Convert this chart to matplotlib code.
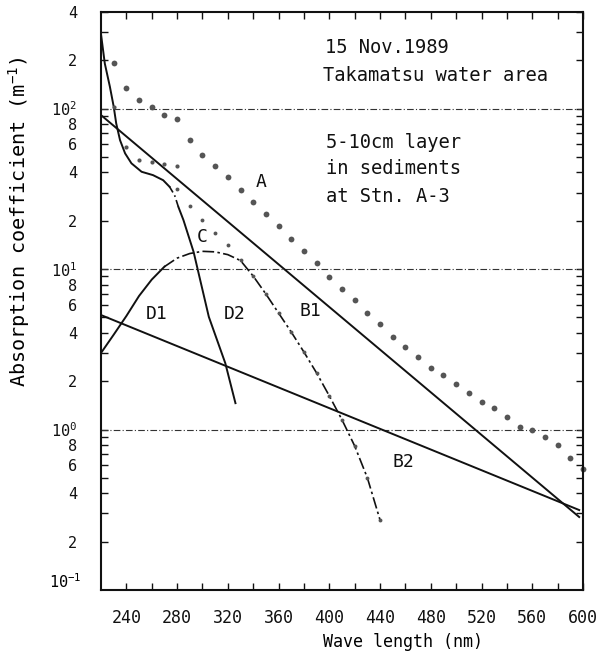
import numpy as np
import matplotlib
matplotlib.use("Agg")
import matplotlib.pyplot as plt
from matplotlib.ticker import FixedLocator, FixedFormatter, NullFormatter

plt.rcParams['font.family'] = ['DejaVu Sans Mono', 'DejaVu Sans']
plt.rcParams['mathtext.fontset'] = 'custom'
plt.rcParams['mathtext.rm'] = 'DejaVu Sans Mono'
plt.rcParams['mathtext.it'] = 'DejaVu Sans Mono'
plt.rcParams['mathtext.default'] = 'regular'

# A : measured absorption (large dots)
wl_A = list(range(230, 610, 10))
val_A = [193, 135, 113, 103, 91.5, 85.6, 63.6, 51.1, 43.8, 37.3, 31.2, 26.3,
         22.0, 18.5, 15.5, 12.9, 10.85, 8.92, 7.51, 6.38, 5.32, 4.56, 3.79,
         3.28, 2.83, 2.43, 2.19, 1.91, 1.70, 1.48, 1.37, 1.19, 1.04, 0.99,
         0.90, 0.80, 0.66, 0.565]

# small dots, short UV part
wl_S = [230, 240, 250, 260, 270, 280]
val_S = [102, 57.8, 47.5, 46.2, 44.9, 44.0]

# B1 small dots
wl_B1 = list(range(280, 450, 10))
val_B1 = [31.5, 24.8, 20.2, 16.9, 14.1, 11.4, 9.04, 6.99, 5.32, 4.05, 3.04,
          2.25, 1.62, 1.15, 0.79, 0.50, 0.273]

# D1 (solid, rising) + C (dash-dot arch, then along B1)
wl_C = list(range(220, 450, 10))
val_C = [3.0, 3.9, 5.1, 6.8, 8.6, 10.35, 11.7, 12.5, 12.9, 12.8, 12.3, 11.3,
         9.04, 6.99, 5.32, 4.05, 3.04, 2.25, 1.62, 1.15, 0.79, 0.50, 0.273]

# steep curve on the left, ending as D2
wl_D = [220, 223, 227, 230, 232, 235, 239, 244, 252, 261, 269, 274, 278, 281,
        285, 293, 305, 318, 326]
val_D = [291, 191, 137, 103, 80.8, 63.6, 52.6, 45.6, 40.4, 38.5, 35.8, 32.6,
         28.9, 24.4, 20.2, 12.8, 5.04, 2.59, 1.46]

# two straight (exponential) lines
wl_L = [220, 597]
val_L1 = [91.1, 0.285]
val_B2 = [5.17, 0.315]

fig = plt.figure(figsize=(6.01, 6.54), dpi=100)
ax = fig.add_axes([101 / 601, 1 - 590 / 654, 482 / 601, 578 / 654])
ax.set_yscale('log')
ax.set_xlim(220, 600)
ax.set_ylim(0.1, 400)

k = '#111111'
# reference lines at decades
for v in [1, 10, 100]:
    ax.axhline(v, color='#333333', lw=0.8, ls=(0, (6, 2, 1, 2)))

ax.plot(wl_L, val_L1, color=k, lw=1.4)
ax.plot(wl_L, val_B2, color=k, lw=1.4)

ax.plot(wl_C[:6], val_C[:6], color=k, lw=1.4)
ax.plot(wl_C[5:], val_C[5:], color=k, lw=1.2, ls=(0, (7, 2, 1.5, 2)))

ax.plot(wl_D[:12], val_D[:12], color=k, lw=1.4)
ax.plot(wl_D[11:14], val_D[11:14], color=k, lw=1.2, ls=(0, (4, 2, 1, 2)))
ax.plot(wl_D[13:], val_D[13:], color=k, lw=1.4)

ax.plot(wl_A, val_A, 'o', color='#555555', ms=4.2, mew=0, clip_on=False)
ax.plot(wl_S, val_S, 'o', color='#555555', ms=3.0, mew=0)
ax.plot(wl_B1, val_B1, 'o', color='#555555', ms=2.8, mew=0)

# curve labels
lab = dict(fontsize=13, color=k, ha='center', va='center')
ax.text(346, 34.8, 'A', **lab)
ax.text(300, 15.8, 'C', **lab)
ax.text(264, 5.24, 'D1', **lab)
ax.text(325, 5.24, 'D2', **lab)
ax.text(385, 5.47, 'B1', **lab)
ax.text(458, 0.627, 'B2', **lab)

info = dict(fontsize=13.5, color=k, ha='left', va='center', transform=ax.transAxes)
ax.text(0.465, 0.939, '15 Nov.1989', **info)
ax.text(0.461, 0.891, 'Takamatsu water area', **info)
ax.text(0.467, 0.775, '5-10cm layer', **info)
ax.text(0.467, 0.730, 'in sediments', **info)
ax.text(0.467, 0.680, 'at Stn. A-3', **info)

# y ticks
ymaj = [0.2, 0.4, 0.6, 0.8, 1, 2, 4, 6, 8, 10, 20, 40, 60, 80, 100, 200, 400]
ylab = ['2', '4', '6', '8', '10$^{0}$', '2', '4', '6', '8', '10$^{1}$',
        '2', '4', '6', '8', '10$^{2}$', '2', '4']
ymin = [0.3, 0.5, 0.7, 0.9, 3, 5, 7, 9, 30, 50, 70, 90, 300]
ax.yaxis.set_major_locator(FixedLocator(ymaj))
ax.yaxis.set_major_formatter(FixedFormatter(ylab))
ax.yaxis.set_minor_locator(FixedLocator(ymin))
ax.yaxis.set_minor_formatter(NullFormatter())
ax.text(-0.04, 0.014, '10$^{-1}$', transform=ax.transAxes, ha='right',
        va='center', fontsize=11)

ax.set_xticks(list(range(240, 601, 40)))
ax.set_xticks(list(range(260, 600, 40)), minor=True)

ax.tick_params(which='both', direction='in', top=True, right=True,
               length=5, width=1, colors=k)
ax.tick_params(axis='y', pad=17, labelsize=11)
ax.tick_params(axis='x', pad=14, labelsize=12)
for s in ax.spines.values():
    s.set_linewidth(1.5)
    s.set_color(k)

ax.set_xlabel('Wave length (nm)', fontsize=12)
ax.xaxis.set_label_coords((403 - 101) / 482, -0.075)
ax.set_ylabel('Absorption coefficient (m$^{-1}$)', fontsize=14.5)
ax.yaxis.set_label_coords(-0.143, (590 - 222) / 578)

fig.savefig('out.png', dpi=100)
